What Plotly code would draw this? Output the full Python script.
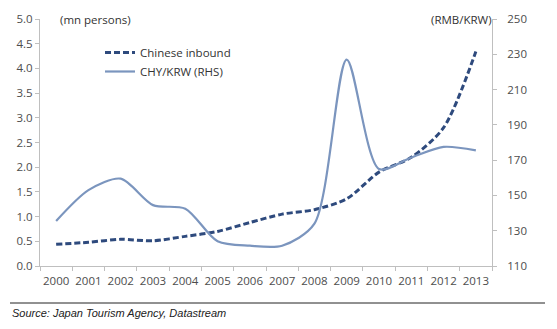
import plotly.graph_objects as go

years = ["2000", "2001", "2002", "2003", "2004", "2005", "2006", "2007",
         "2008", "2009", "2010", "2011", "2012", "2013"]
chinese_inbound = [0.44, 0.48, 0.54, 0.51, 0.60, 0.70, 0.88, 1.05, 1.14, 1.36, 1.90, 2.20, 2.80, 4.34]
chy_krw = [135.5, 153, 159.5, 144.5, 142.5, 124, 121.5, 121.5, 134, 227, 165, 171.5, 177.5, 175.5]

left_ticks = [0.0, 0.5, 1.0, 1.5, 2.0, 2.5, 3.0, 3.5, 4.0, 4.5, 5.0]
right_ticks = [110, 130, 150, 170, 190, 210, 230, 250]

W, H = 557, 329
ml, mr, mt, mb = 40, 65, 19, 63
pw = W - ml - mr
ph = H - mt - mb

def px_x(x):
    return (x - ml) / pw

def px_y(y):
    return (H - mb - y) / ph

fig = go.Figure()
fig.add_trace(go.Scatter(
    x=years, y=chinese_inbound, name="Chinese inbound", mode="lines",
    line=dict(color="#2E4A7D", width=3, dash="6px,3px", shape="spline", smoothing=0.8),
))
fig.add_trace(go.Scatter(
    x=years, y=chy_krw, name="CHY/KRW (RHS)", mode="lines", yaxis="y2",
    line=dict(color="#7B95BE", width=2.2, shape="spline", smoothing=0.8),
))

axis_font = dict(family="Open Sans, Lato, sans-serif", size=11.5, color="#4D4D4D")
fig.update_layout(
    width=W, height=H,
    margin=dict(l=ml, r=mr, t=mt, b=mb),
    paper_bgcolor="white", plot_bgcolor="white",
    showlegend=True,
    legend=dict(x=px_x(100), y=px_y(38), xanchor="left", yanchor="top",
                bgcolor="rgba(0,0,0,0)", font=dict(family="Open Sans, Lato, sans-serif", size=11.5, color="#333"),
                tracegroupgap=0, itemwidth=30),
    xaxis=dict(type="category", tickson="boundaries", showline=True, linecolor="#BFBFBF",
               ticks="outside", ticklen=4, tickcolor="#BFBFBF", showgrid=False,
               tickfont=axis_font, tickangle=0, range=[-0.5, 13.5], ticklabelstandoff=4),
    yaxis=dict(range=[0, 5], tickvals=left_ticks, ticktext=[f"{v:.1f}" for v in left_ticks],
               showline=True, linecolor="#BFBFBF", ticks="outside", ticklen=4, tickcolor="#BFBFBF",
               showgrid=False, zeroline=False, tickfont=axis_font),
    yaxis2=dict(range=[110, 250], tickvals=right_ticks, overlaying="y", side="right",
                showline=True, linecolor="#BFBFBF", ticks="outside", ticklen=4, tickcolor="#BFBFBF",
                showgrid=False, zeroline=False, tickfont=axis_font, ticklabelstandoff=8),
)

fig.add_annotation(text="(mn persons)", xref="paper", yref="paper", x=px_x(58), y=px_y(19),
                   xanchor="left", yanchor="middle", showarrow=False,
                   font=dict(family="Open Sans, Lato, sans-serif", size=11.5, color="#333"))
fig.add_annotation(text="(RMB/KRW)", xref="paper", yref="paper", x=px_x(494), y=px_y(19),
                   xanchor="right", yanchor="middle", showarrow=False,
                   font=dict(family="Open Sans, Lato, sans-serif", size=11.5, color="#333"))
fig.add_annotation(text="<i>Source: Japan Tourism Agency, Datastream</i>", xref="paper", yref="paper",
                   x=px_x(10), y=px_y(313), xanchor="left", yanchor="middle", showarrow=False,
                   font=dict(family="Liberation Sans, Arial, sans-serif", size=11, color="#222"))
fig.add_shape(type="line", xref="paper", yref="paper", x0=px_x(10), x1=px_x(545),
              y0=px_y(303), y1=px_y(303), line=dict(color="#222", width=1))

fig.write_html("out.html")
